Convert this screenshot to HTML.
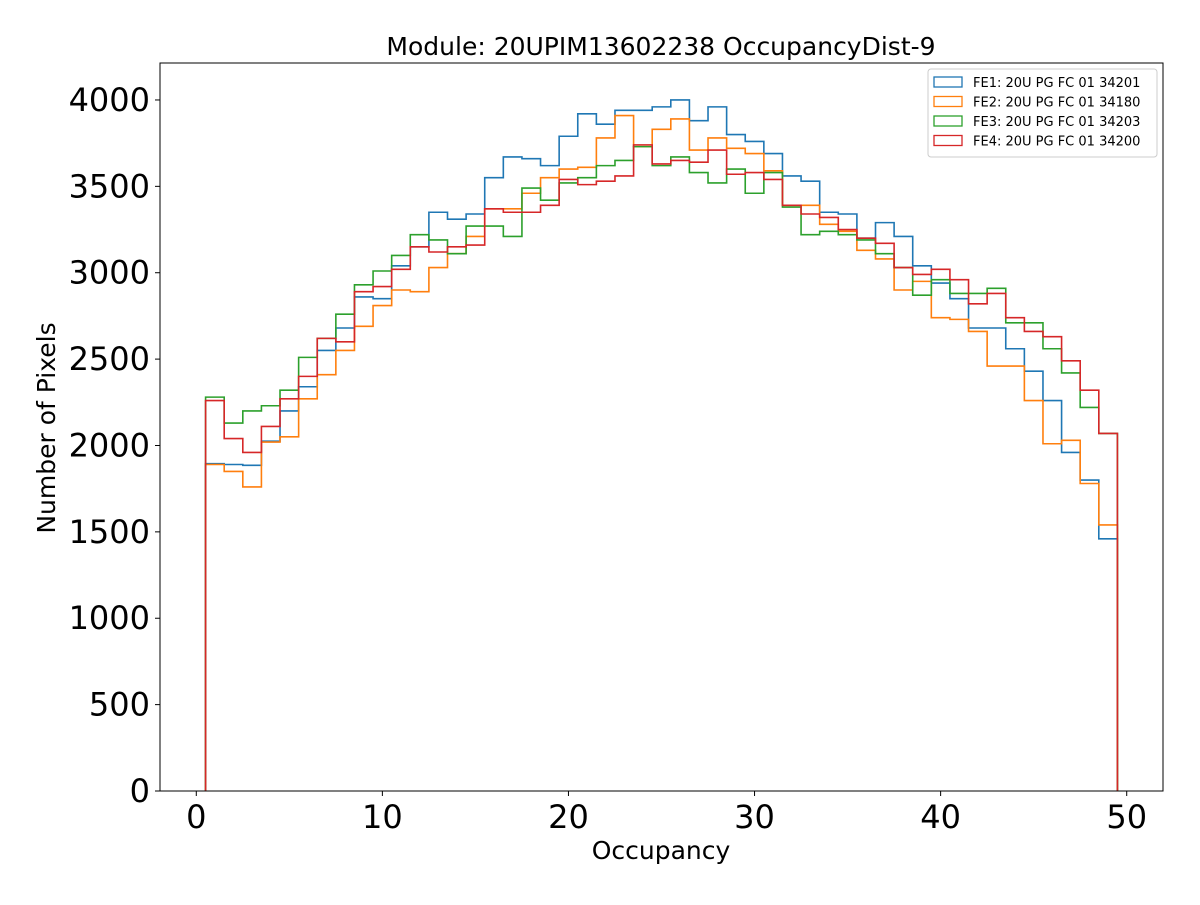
<!DOCTYPE html>
<html><head><meta charset="utf-8"><style>
body{margin:0;background:#fff;font-family:"Liberation Sans","DejaVu Sans",sans-serif}
svg text{font-family:"DejaVu Sans","Liberation Sans",sans-serif}
</style></head><body>
<svg id="chart" width="1200" height="900" viewBox="0 0 1200 900">
<rect width="1200" height="900" fill="#fff"/>
<text x="661" y="55" font-size="25" text-anchor="middle">Module: 20UPIM13602238 OccupancyDist-9</text>
<g id="series"></g>
<g id="axes"></g>
<rect x="160" y="63" width="1003" height="728" fill="none" stroke="#000" stroke-width="1"/>
<text x="661" y="859" font-size="25" text-anchor="middle">Occupancy</text>
<text transform="translate(55,428) rotate(-90)" font-size="25" text-anchor="middle">Number of Pixels</text>
<g id="legend"></g>
</svg>
<script>
const seriesNames=["FE1: 20U PG FC 01 34201","FE2: 20U PG FC 01 34180","FE3: 20U PG FC 01 34203","FE4: 20U PG FC 01 34200"];
const seriesColors=["#1f77b4","#ff7f0e","#2ca02c","#d62728"];
const fe1=[1895,1890,1885,2025,2200,2340,2550,2680,2860,2850,3040,3150,3350,3310,3340,3550,3670,3660,3620,3790,3920,3860,3940,3940,3960,4000,3880,3960,3800,3760,3690,3560,3530,3350,3340,3200,3290,3210,3040,2940,2850,2680,2680,2560,2430,2260,1960,1800,1460];
const fe2=[1890,1850,1760,2020,2050,2270,2410,2550,2690,2810,2900,2890,3030,3110,3210,3370,3370,3460,3550,3600,3610,3780,3910,3730,3830,3890,3710,3780,3720,3690,3590,3390,3390,3280,3240,3130,3080,2900,2950,2740,2730,2660,2460,2460,2260,2010,2030,1780,1540];
const fe3=[2280,2130,2200,2230,2320,2510,2620,2760,2930,3010,3100,3220,3190,3110,3270,3270,3210,3490,3420,3520,3550,3620,3650,3730,3620,3670,3580,3520,3600,3460,3580,3380,3220,3240,3220,3190,3110,3030,2870,2960,2880,2880,2910,2710,2710,2560,2420,2220,2070];
const fe4=[2260,2040,1960,2110,2270,2400,2620,2600,2890,2920,3020,3150,3120,3150,3160,3370,3350,3350,3390,3540,3510,3530,3560,3740,3630,3650,3640,3710,3570,3580,3540,3390,3340,3320,3250,3200,3170,3030,2990,3020,2960,2820,2880,2740,2660,2630,2490,2320,2070];
const binStart=0.5, binWidth=1;
const xTicks=[0,10,20,30,40,50];
const yTicks=[0,500,1000,1500,2000,2500,3000,3500,4000];
const NS="http://www.w3.org/2000/svg";
const xMin=-1.95,xMax=51.95,yMax=4214;
const L=160,R=1163,T=63,B=791;
function xs(v){return L+(v-xMin)/(xMax-xMin)*(R-L);}
function ys(v){return B-v/yMax*(B-T);}
const sg=document.getElementById('series');
[fe1,fe2,fe3,fe4].forEach((arr,i)=>{
  let d="M"+xs(binStart)+","+ys(0);
  arr.forEach((v,j)=>{
    const x0=xs(binStart+j*binWidth),x1=xs(binStart+(j+1)*binWidth);
    d+=" L"+x0+","+ys(v)+" L"+x1+","+ys(v);
  });
  d+=" L"+xs(binStart+arr.length*binWidth)+","+ys(0);
  const p=document.createElementNS(NS,'path');
  p.setAttribute('d',d);p.setAttribute('fill','none');
  p.setAttribute('stroke',seriesColors[i]);p.setAttribute('stroke-width','1.6');
  
  
  sg.appendChild(p);
});
const ag=document.getElementById('axes');
xTicks.forEach(t=>{
  const x=xs(t);
  const l=document.createElementNS(NS,'line');
  l.setAttribute('x1',x);l.setAttribute('x2',x);l.setAttribute('y1',B);l.setAttribute('y2',B+5);l.setAttribute('stroke','#000');
  
  
  ag.appendChild(l);
  const tx=document.createElementNS(NS,'text');
  tx.setAttribute('x',x);tx.setAttribute('y',828);tx.setAttribute('font-size','32');tx.setAttribute('text-anchor','middle');
  tx.textContent=t;
  
  
  ag.appendChild(tx);
});
yTicks.forEach(t=>{
  const y=ys(t);
  const l=document.createElementNS(NS,'line');
  l.setAttribute('x1',L-5);l.setAttribute('x2',L);l.setAttribute('y1',y);l.setAttribute('y2',y);l.setAttribute('stroke','#000');
  
  
  ag.appendChild(l);
  const tx=document.createElementNS(NS,'text');
  tx.setAttribute('x',150);tx.setAttribute('y',y+11);tx.setAttribute('font-size','32');tx.setAttribute('text-anchor','end');
  tx.textContent=t;
  
  
  ag.appendChild(tx);
});
const lg=document.getElementById('legend');
const box=document.createElementNS(NS,'rect');
box.setAttribute('x',928);box.setAttribute('y',69);box.setAttribute('width',229);box.setAttribute('height',88);box.setAttribute('rx',3);
box.setAttribute('fill','#fff');box.setAttribute('fill-opacity','0.8');box.setAttribute('stroke','#ccc');


lg.appendChild(box);
seriesNames.forEach((n,i)=>{
  const y=82+i*19.5;
  const r=document.createElementNS(NS,'rect');
  r.setAttribute('x',934);r.setAttribute('y',y-5);r.setAttribute('width',28);r.setAttribute('height',10);
  r.setAttribute('fill','none');r.setAttribute('stroke',seriesColors[i]);r.setAttribute('stroke-width','1.3');
  
  
  lg.appendChild(r);
  const t=document.createElementNS(NS,'text');
  t.setAttribute('x',973);t.setAttribute('y',y+5);t.setAttribute('font-size','13');
  t.textContent=n;
  
  
  lg.appendChild(t);
});
</script>
</body></html>
